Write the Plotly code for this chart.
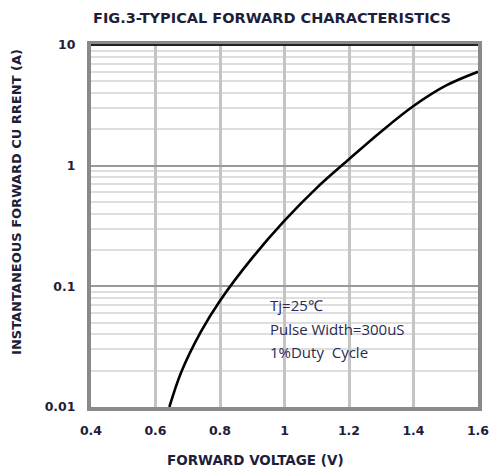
import math
import plotly.graph_objects as go

# Data
voltage = [0.643, 0.68, 0.74, 0.80, 0.90, 1.00, 1.10, 1.20, 1.30, 1.40, 1.50, 1.60]
current = [0.010, 0.0195, 0.0417, 0.076, 0.172, 0.35, 0.655, 1.13, 1.92, 3.12, 4.6, 6.0]

x_ticks = [0.4, 0.6, 0.8, 1.0, 1.2, 1.4, 1.6]
x_tick_labels = ["0.4", "0.6", "0.8", "1", "1.2", "1.4", "1.6"]
x_dark_grid = [0.6, 1.0, 1.4]
y_ticks = [0.01, 0.1, 1, 10]
y_tick_labels = ["0.01", "0.1", "1", "10"]
note_lines = ["Tj=25\u2103", "Pulse Width=300uS", "1%Duty  Cycle"]
note_currents = [0.070, 0.0443, 0.0286]

TXT = "#1e1e3a"
BOLD = "DejaVu Sans, sans-serif"

L, R, T, B = 91, 13, 45, 65
W, H = 501, 472
PW, PH = W - L - R, H - T - B

fig = go.Figure()
fig.add_trace(go.Scatter(
    x=voltage, y=current, mode="lines",
    line=dict(color="black", width=2.6, shape="spline", smoothing=1.0),
    hoverinfo="skip", showlegend=False,
))

for xv in x_dark_grid:
    fig.add_shape(type="line", xref="x", yref="paper", x0=xv, x1=xv, y0=0, y1=1,
                  line=dict(color="#8c8c8c", width=1.8), layer="below")

fig.add_shape(type="line", xref="paper", yref="paper", x0=0, x1=1, y0=1, y1=1,
              line=dict(color="#222222", width=2), layer="above")

fig.update_layout(
    width=W, height=H,
    margin=dict(l=L, r=R, t=T, b=B),
    paper_bgcolor="white", plot_bgcolor="white",
    title=dict(text="<b>FIG.3-TYPICAL FORWARD CHARACTERISTICS</b>",
               x=272 / W, xanchor="center", y=1 - 18 / H, yanchor="middle",
               font=dict(family=BOLD, size=14.5, color=TXT)),
    xaxis=dict(
        range=[0.4, 1.6], tickvals=x_ticks, ticktext=["<b>%s</b>" % t for t in x_tick_labels],
        tickfont=dict(family=BOLD, size=12.5, color=TXT),
        showgrid=True, gridcolor="#c4c4c4", gridwidth=2.6,
        showline=True, linecolor="#8a8a8a", linewidth=4, mirror=True,
        ticks="", ticklabelstandoff=9, zeroline=False,
    ),
    yaxis=dict(
        type="log", range=[-2, 1], tickvals=y_ticks,
        ticktext=["<b>%s</b>" % t for t in y_tick_labels],
        tickfont=dict(family=BOLD, size=12.5, color=TXT),
        showgrid=True, gridcolor="#9a9a9a", gridwidth=1.8,
        minor=dict(dtick="D1", showgrid=True, gridcolor="#dedede", gridwidth=1.8, ticks=""),
        showline=True, linecolor="#8a8a8a", linewidth=4, mirror=True,
        ticks="", ticklabelstandoff=9, zeroline=False,
    ),
)

fig.add_annotation(
    text="<b>FORWARD VOLTAGE (V)</b>",
    xref="paper", yref="paper", x=(260 - L) / PW, y=-(460 - (T + PH)) / PH,
    xanchor="center", yanchor="middle", showarrow=False,
    font=dict(family=BOLD, size=13.5, color=TXT),
)

fig.add_annotation(
    text="<b>INSTANTANEOUS FORWARD CU RRENT (A)</b>", textangle=-90,
    xref="paper", yref="paper", x=(15 - L) / PW, y=(T + PH - 202) / PH,
    xanchor="center", yanchor="middle", showarrow=False,
    font=dict(family=BOLD, size=13, color=TXT),
)

for line, cur in zip(note_lines, note_currents):
    fig.add_annotation(
        text=line, x=0.950, y=math.log10(cur), xref="x", yref="y",
        xanchor="left", yanchor="middle", showarrow=False,
        font=dict(family="Open Sans, sans-serif", size=15, color="#2a2a52"),
    )

fig.write_html("out.html", config={"displayModeBar": False},
               post_script="document.body.style.margin='0';document.body.style.overflow='hidden';")
